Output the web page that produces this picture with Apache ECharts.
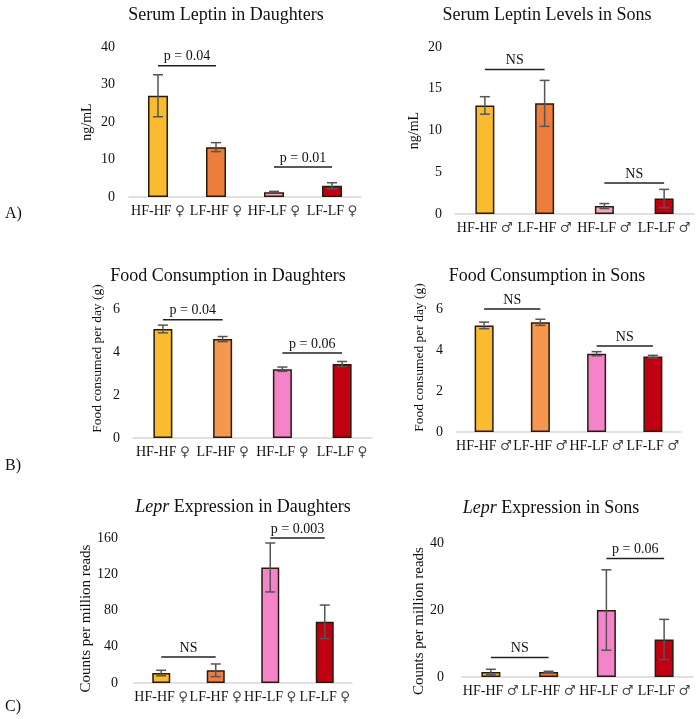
<!DOCTYPE html>
<html>
<head>
<meta charset="utf-8">
<script src="https://cdn.jsdelivr.net/npm/echarts@6/dist/echarts.min.js"></script>
<style>html,body{margin:0;padding:0;background:#fff}#c{width:700px;height:719px}</style>
</head>
<body>
<div id="c"></div>
<script>
// ---- data ----
const femaleCats = ['HF-HF ♀', 'LF-HF ♀', 'HF-LF ♀', 'LF-LF ♀'];
const maleCats = ['HF-HF ♂', 'LF-HF ♂', 'HF-LF ♂', 'LF-LF ♂'];

const leptinDaughters = [27.0, 13.3, 1.3, 3.0];
const leptinDaughtersErr = [5.6, 1.2, 0.2, 0.8];
const leptinSons = [13.0, 13.25, 0.95, 1.85];
const leptinSonsErr = [1.05, 2.75, 0.3, 1.1];

const foodDaughters = [5.07, 4.6, 3.2, 3.44];
const foodDaughtersErr = [0.18, 0.12, 0.1, 0.12];
const foodSons = [5.2, 5.35, 3.82, 3.68];
const foodSonsErr = [0.16, 0.15, 0.1, 0.06];

const leprDaughters = [11, 14, 127.5, 67.5];
const leprDaughtersErr = [3, 7, 27, 18.5];
const leprSons = [1.5, 1.5, 20, 11.2];
const leprSonsErr = [0.8, 0.2, 12, 6];

// significance brackets: [fromCategory, toCategory, yValue]
const sigLeptinDaughters = [[0, 1, 35], [2, 3, 8]];
const sigLeptinDaughtersText = ['p = 0.04', 'p = 0.01'];
const sigLeptinSons = [[0, 1, 17.3], [2, 3, 3.7]];
const sigLeptinSonsText = ['NS', 'NS'];
const sigFoodDaughters = [[0, 1, 5.5], [2, 3, 3.95]];
const sigFoodDaughtersText = ['p = 0.04', 'p = 0.06'];
const sigFoodSons = [[0, 1, 6.0], [2, 3, 4.2]];
const sigFoodSonsText = ['NS', 'NS'];
const sigLeprDaughters = [[0, 1, 28.7], [2, 3, 160]];
const sigLeprDaughtersText = ['NS', 'p = 0.003'];
const sigLeprSons = [[0, 1, 5.8], [2, 3, 35.4]];
const sigLeprSonsText = ['NS', 'p = 0.06'];

const yTicksLeptinDaughters = {max: 40, interval: 10};
const yTicksLeptinSons = {max: 20, interval: 5};
const yTicksFood = {max: 6, interval: 2};
const yTicksLeprDaughters = {max: 160, interval: 40};
const yTicksLeprSons = {max: 40, interval: 20};

// ---- styles ----
const FONT = "'Liberation Serif', 'Times New Roman', serif";
const colorsA = ['#FBBB2E', '#EC7D3B', '#F5A7C2', '#C00012'];
const colorsB = ['#FBBB2E', '#F4974F', '#F583CA', '#C00012'];
const colorsC = ['#FBBB2E', '#EE7F44', '#F583CA', '#C00012'];

const panels = [
  {title: 'Serum Leptin in Daughters', tx: 226, ty: 6, cats: femaleCats, vals: leptinDaughters, errs: leptinDaughtersErr, sig: sigLeptinDaughters, sigText: sigLeptinDaughtersText, ticks: yTicksLeptinDaughters, colors: colorsA, yName: 'ng/mL', grid: {left: 129, top: 47, width: 232, height: 150}, bw: 20, gap: 35, pad: [0,0,0,0], nameSize: 14, lm: 14},
  {title: 'Serum Leptin Levels in Sons', tx: 547, ty: 6, cats: maleCats, vals: leptinSons, errs: leptinSonsErr, sig: sigLeptinSons, sigText: sigLeptinSonsText, ticks: yTicksLeptinSons, colors: colorsA, yName: 'ng/mL', grid: {left: 455, top: 47, width: 239, height: 167}, bw: 19, gap: 34, pad: [0,0,0,0], nameSize: 14, lm: 13},
  {title: 'Food Consumption in Daughters', tx: 228, ty: 267, cats: femaleCats, vals: foodDaughters, errs: foodDaughtersErr, sig: sigFoodDaughters, sigText: sigFoodDaughtersText, ticks: yTicksFood, colors: colorsB, yName: 'Food consumed per day (g)', grid: {left: 133, top: 309, width: 239, height: 129}, bw: 19, gap: 29, pad: [0,0,0,30], nameSize: 13.5, lm: 13},
  {title: 'Food Consumption in Sons', tx: 547, ty: 267, cats: maleCats, vals: foodSons, errs: foodSonsErr, sig: sigFoodSons, sigText: sigFoodSonsText, ticks: yTicksFood, colors: colorsB, yName: 'Food consumed per day (g)', grid: {left: 456, top: 309, width: 225, height: 123}, bw: 19, gap: 30, pad: [0,0,0,26], nameSize: 13.5, lm: 13},
  {title: '{i|Lepr} Expression in Daughters', tx: 243, ty: 498, cats: femaleCats, vals: leprDaughters, errs: leprDaughtersErr, sig: sigLeprDaughters, sigText: sigLeprDaughtersText, ticks: yTicksLeprDaughters, colors: colorsC, yName: 'Counts per million reads', grid: {left: 134, top: 538, width: 218, height: 145}, bw: 18, gap: 40, pad: [0,16,0,0], nameSize: 15, lm: 16},
  {title: '{i|Lepr} Expression in Sons', tx: 551, ty: 499, cats: maleCats, vals: leprSons, errs: leprSonsErr, sig: sigLeprSons, sigText: sigLeprSonsText, ticks: yTicksLeprSons, colors: colorsC, yName: 'Counts per million reads', grid: {left: 462, top: 543, width: 231, height: 134}, bw: 19, gap: 32, pad: [0,22,0,0], nameSize: 15, lm: 18}
];

const option = {
  animation: false,
  backgroundColor: '#fff',
  textStyle: {fontFamily: FONT},
  title: [], grid: [], xAxis: [], yAxis: [], series: []
};

panels.forEach((p, k) => {
  option.title.push({
    text: p.title, left: p.tx, top: p.ty, textAlign: 'center', padding: 0,
    textStyle: {fontFamily: FONT, fontSize: 18, fontWeight: 'normal', color: '#111',
      rich: {i: {fontFamily: FONT, fontSize: 18, fontStyle: 'italic', color: '#111'}}}
  });
  option.grid.push(Object.assign({containLabel: false}, p.grid));
  option.xAxis.push({
    type: 'category', gridIndex: k, data: p.cats,
    axisLine: {lineStyle: {color: '#d6d6d6', width: 1.5}},
    axisTick: {show: false},
    axisLabel: {
      interval: 0, margin: 7, fontFamily: FONT, fontSize: 14, color: '#111',
      formatter: function (v) {
        const parts = v.split(' ');
        return parts[0] + ' {s|' + parts[1] + '}';
      },
      rich: {s: {fontFamily: "'DejaVu Serif', 'DejaVu Sans', serif", fontSize: 13.5, color: '#444'}}
    }
  });
  option.yAxis.push({
    type: 'value', gridIndex: k, min: 0, max: p.ticks.max, interval: p.ticks.interval,
    axisLine: {show: false}, axisTick: {show: false}, splitLine: {show: false},
    axisLabel: {margin: p.lm, fontFamily: FONT, fontSize: 14, color: '#111'},
    name: p.yName, nameLocation: 'middle', nameRotate: 90, nameGap: p.gap,
    nameTextStyle: {fontFamily: FONT, fontSize: p.nameSize, color: '#111', padding: p.pad}
  });
  option.series.push({
    type: 'bar', xAxisIndex: k, yAxisIndex: k, barWidth: p.bw,
    data: p.vals.map((v, i) => ({value: v, itemStyle: {color: p.colors[i]}})),
    itemStyle: {borderColor: '#2a1a0c', borderWidth: 1.5}
  });
  option.series.push({
    type: 'custom', xAxisIndex: k, yAxisIndex: k, z: 5,
    data: p.vals.map((v, i) => [i, v - p.errs[i], v + p.errs[i]]),
    renderItem: function (params, api) {
      const x = api.value(0);
      const lo = api.coord([x, api.value(1)]);
      const hi = api.coord([x, api.value(2)]);
      const cap = 5;
      const st = {stroke: '#555', lineWidth: 1.5};
      return {type: 'group', children: [
        {type: 'line', shape: {x1: lo[0], y1: lo[1], x2: hi[0], y2: hi[1]}, style: st},
        {type: 'line', shape: {x1: lo[0] - cap, y1: lo[1], x2: lo[0] + cap, y2: lo[1]}, style: st},
        {type: 'line', shape: {x1: hi[0] - cap, y1: hi[1], x2: hi[0] + cap, y2: hi[1]}, style: st}
      ]};
    }
  });
  option.series.push({
    type: 'custom', xAxisIndex: k, yAxisIndex: k, z: 6, clip: false,
    data: p.sig,
    encode: {x: [0, 1], y: 2},
    renderItem: function (params, api) {
      const a = api.coord([api.value(0), api.value(2)]);
      const b = api.coord([api.value(1), api.value(2)]);
      return {type: 'group', children: [
        {type: 'line', shape: {x1: a[0], y1: a[1], x2: b[0], y2: b[1]}, style: {stroke: '#222', lineWidth: 1.5}},
        {type: 'text', x: (a[0] + b[0]) / 2, y: a[1] - 2,
          style: {text: p.sigText[params.dataIndex], fontFamily: FONT, fontSize: 14, fill: '#111', align: 'center', verticalAlign: 'bottom'}}
      ]};
    }
  });
});

// panel letters
[['A)', 215], ['B)', 467], ['C)', 708]].forEach(([t, y]) => {
  option.title.push({text: t, left: 5, top: y - 9, padding: 0,
    textStyle: {fontFamily: FONT, fontSize: 16, fontWeight: 'normal', color: '#111'}});
});

const chart = echarts.init(document.getElementById('c'), null, {renderer: 'canvas'});
chart.setOption(option);
</script>
</body>
</html>
